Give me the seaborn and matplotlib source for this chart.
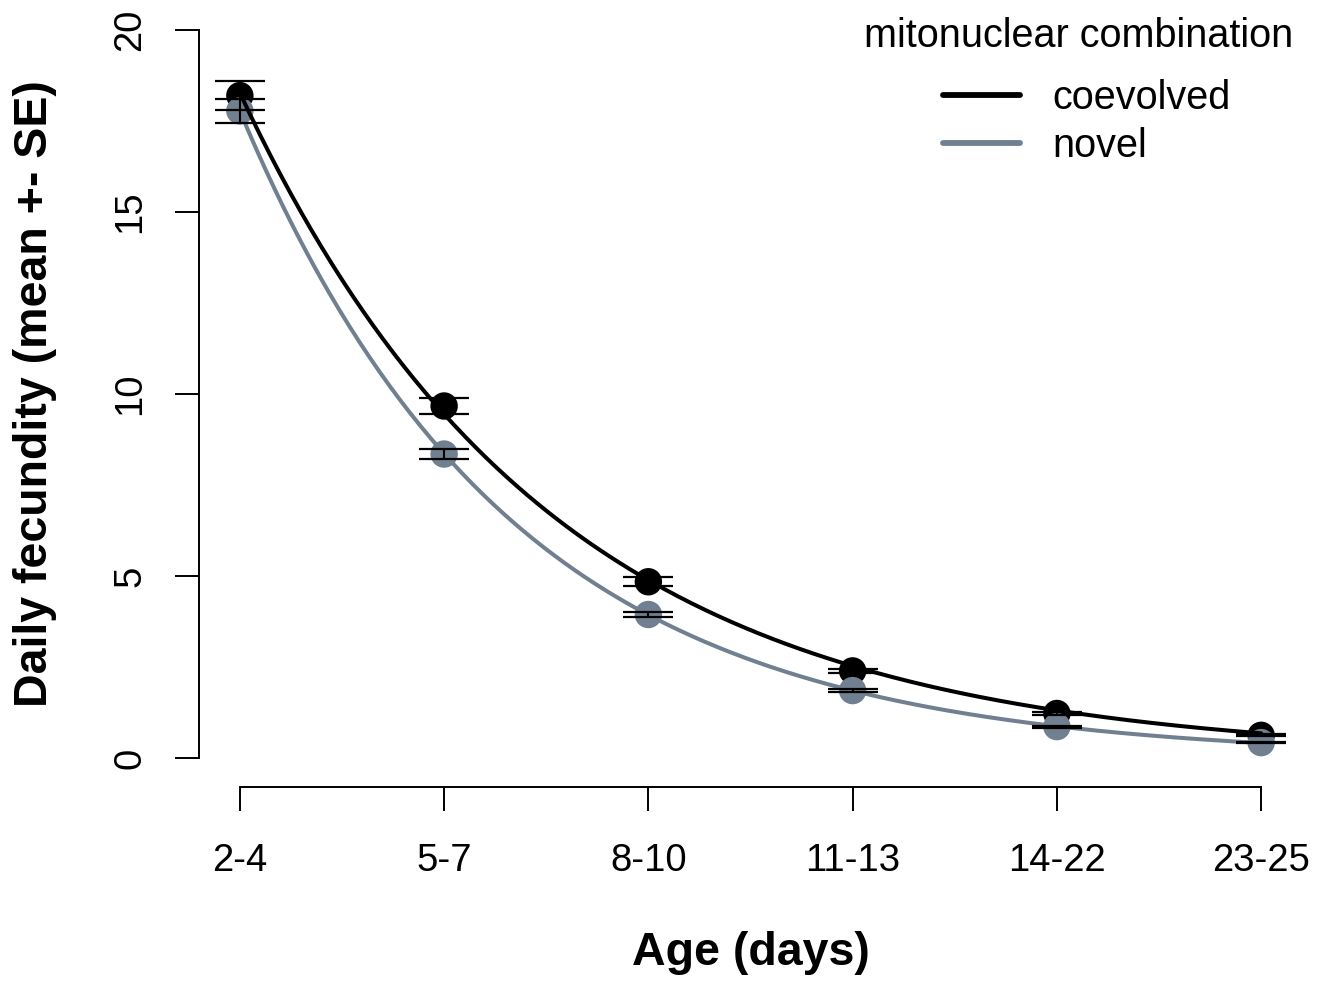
import numpy as np
import pandas as pd
import matplotlib
matplotlib.use("Agg")
import matplotlib.pyplot as plt
from matplotlib.lines import Line2D
import seaborn as sns

# Age classes and mean daily fecundity (+- SE) per mitonuclear combination
age_classes = ["2-4", "5-7", "8-10", "11-13", "14-22", "23-25"]
coevolved_mean = [18.20, 9.67, 4.84, 2.39, 1.22, 0.62]
coevolved_se = [0.40, 0.22, 0.12, 0.06, 0.03, 0.03]
novel_mean = [17.78, 8.35, 3.94, 1.85, 0.86, 0.42]
novel_se = [0.33, 0.14, 0.07, 0.04, 0.025, 0.02]
groups = ["coevolved", "novel"]
y_ticks = [0, 5, 10, 15, 20]

colors = {"coevolved": "#000000", "novel": "#708090"}

pos = np.arange(len(age_classes))
df = pd.DataFrame({
    "pos": np.concatenate([pos, pos]),
    "mean": coevolved_mean + novel_mean,
    "se": coevolved_se + novel_se,
    "combination": ["coevolved"] * len(pos) + ["novel"] * len(pos),
})


def fit_exp(x, y, n_iter=50):
    """Least-squares fit of y = a * exp(b * x) (Gauss-Newton)."""
    x = np.asarray(x, float)
    y = np.asarray(y, float)
    b, loga = np.polyfit(x, np.log(y), 1)
    a = np.exp(loga)
    for _ in range(n_iter):
        f = a * np.exp(b * x)
        J = np.column_stack([np.exp(b * x), a * x * np.exp(b * x)])
        step, *_ = np.linalg.lstsq(J, y - f, rcond=None)
        a, b = a + step[0], b + step[1]
    return a, b


xs = np.linspace(0, len(age_classes) - 1, 300)
curves = []
for g in groups:
    sub = df[df["combination"] == g]
    a, b = fit_exp(sub["pos"], sub["mean"])
    curves.append(pd.DataFrame({"pos": xs, "fit": a * np.exp(b * xs), "combination": g}))
curve_df = pd.concat(curves, ignore_index=True)

sns.set_theme(style="white")
plt.rcParams["font.family"] = ["Liberation Sans", "DejaVu Sans"]
plt.rcParams["text.color"] = "black"

W, H = 1333, 985
fig = plt.figure(figsize=(W / 100, H / 100), dpi=100)
ax = fig.add_axes([199 / W, (H - 787) / H, 1103 / W, 786 / H])

# points
sns.scatterplot(data=df, x="pos", y="mean", hue="combination", palette=colors,
                hue_order=groups, s=390, linewidth=0, legend=False, ax=ax, zorder=2)
# fitted exponential decay
sns.lineplot(data=curve_df, x="pos", y="fit", hue="combination", palette=colors,
             hue_order=groups, linewidth=2.9, legend=False, ax=ax, zorder=3)
# standard errors
ax.errorbar(df["pos"], df["mean"], yerr=df["se"], fmt="none", ecolor="black",
            elinewidth=1.5, capsize=18, capthick=1.6, zorder=4)

ax.set_xlim(-0.2, 5.2)
ax.set_ylim(-0.8, 20.8)
ax.set_xticks(pos)
ax.set_xticklabels(age_classes)
ax.set_yticks(y_ticks)
ax.set_yticklabels([str(t) for t in y_ticks], rotation=90, va="center")

for side in ("top", "right"):
    ax.spines[side].set_visible(False)
ax.spines["left"].set_bounds(0, 20)
ax.spines["bottom"].set_bounds(0, 5)
for side in ("left", "bottom"):
    ax.spines[side].set_linewidth(1.4)
    ax.spines[side].set_color("black")

ax.tick_params(axis="both", direction="out", length=17.5, width=1.4, color="black",
               labelsize=27.5, labelcolor="black")
ax.tick_params(axis="x", bottom=True, pad=23)
ax.tick_params(axis="y", left=True, pad=19)

ax.set_xlabel("Age (days)", fontsize=33.5, fontweight="bold", color="black")
ax.set_ylabel("Daily fecundity (mean +- SE)", fontsize=33.5, fontweight="bold", color="black")
ax.xaxis.label.set_va("center")
ax.xaxis.set_label_coords(0.5, (787 - 953) / 786)
ax.yaxis.label.set_va("center")
ax.yaxis.label.set_ha("center")
ax.yaxis.set_label_coords((35 - 199) / 1103, 0.5)

# legend: title set above the entry block
fig.text(1078.5 / W, 1 - 47 / H, "mitonuclear combination", ha="center", va="baseline",
         fontsize=28.5, color="black")
handles = [Line2D([0], [0], color=colors[g], lw=4.2) for g in groups]
leg = ax.legend(handles, groups, frameon=False, loc="upper left",
                bbox_to_anchor=(943 / W, 1 - 79 / H), bbox_transform=fig.transFigure,
                fontsize=28.5, labelcolor="black", handlelength=1.95, handletextpad=0.82,
                labelspacing=0.25, borderpad=0, borderaxespad=0)

fig.savefig("out.png", dpi=100, facecolor="white")
